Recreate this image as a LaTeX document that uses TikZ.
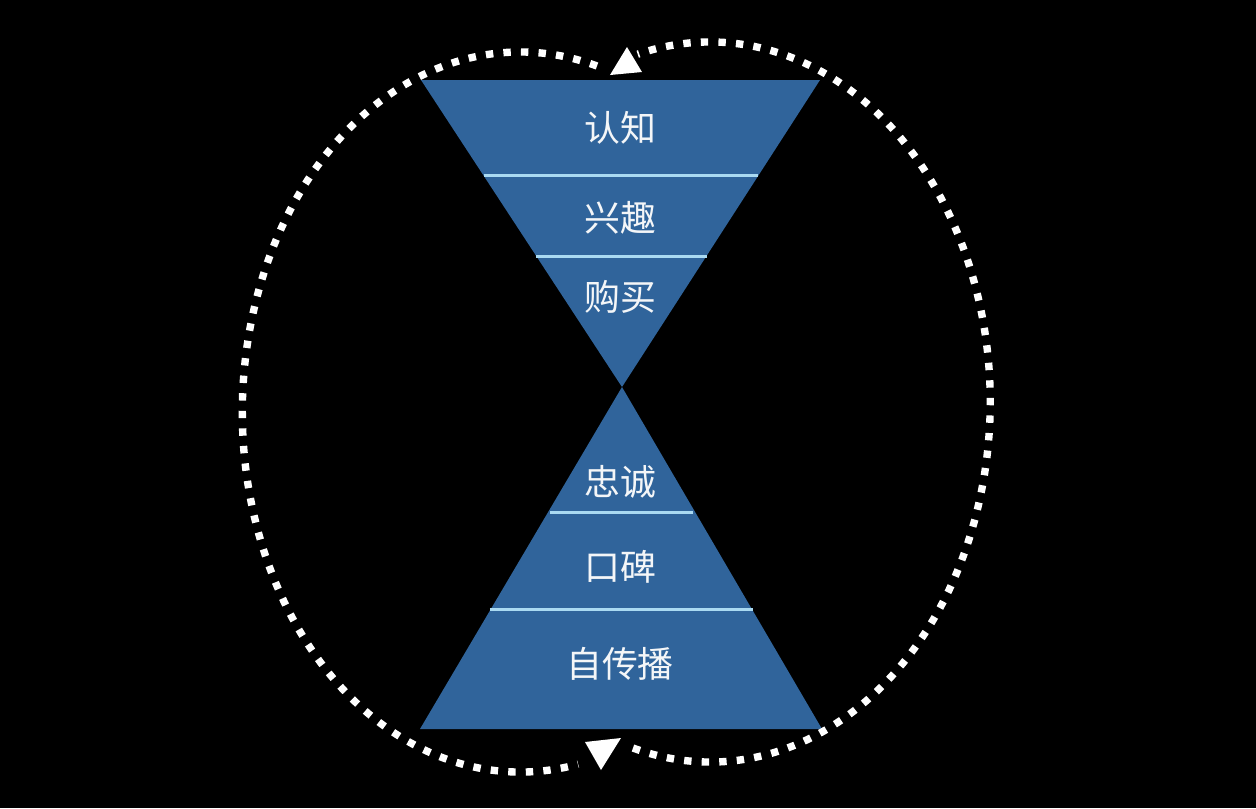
\documentclass[tikz,border=0pt]{standalone}
\usepackage{fontspec}
\newfontfamily\cjk{Noto Sans CJK SC}
\usetikzlibrary{positioning}
\definecolor{funnelblue}{RGB}{48,100,155}
\definecolor{linecyan}{RGB}{170,218,242}
\definecolor{labelwhite}{RGB}{244,246,248}

\begin{document}
\begin{tikzpicture}[x=0.01cm, y=-0.01cm,
    stage/.style={text=labelwhite, font=\cjk\fontsize{10.2}{12}\selectfont, inner sep=0pt},
    divider/.style={draw=linecyan, line width=0.85pt},
    loopline/.style={draw=white, line width=2.1pt, dash pattern=on 2.1pt off 2.9pt},
    loophead/.style={fill=white}]
    % Background
    \fill[black] (0,0) rectangle (1256,808);

    % Funnels
    \fill[funnelblue] (421,80) -- (820,80) -- (622,387) -- cycle;
    \fill[funnelblue] (622,387) -- (822,729) -- (420,729) -- cycle;

    % Dividers
    \draw[divider] (484,175) -- (758,175);
    \draw[divider] (536,256) -- (707,256);
    \draw[divider] (550,512) -- (693,512);
    \draw[divider] (490,609) -- (753,609);

    % Labels
    \node[stage] (renzhi) at (620,128) {认知};
    \node[stage] (xingqu) at (620,218) {兴趣};
    \node[stage] (goumai) at (620,297) {购买};
    \node[stage] (zhongcheng) at (620,482) {忠诚};
    \node[stage] (koubei) at (620,567) {口碑};
    \node[stage] (zichuanbo) at (620,664) {自传播};

    % Loop
    \draw[loopline] (597,66) arc[start angle=-74, end angle=-282, x radius=278, y radius=360];
    \draw[loopline] (633,748) arc[start angle=106, end angle=-105, x radius=280, y radius=360];

    % Arrow heads
    \fill[loophead] (610,75) -- (642,72) -- (627,47) -- cycle;
    \fill[loophead] (585,742) -- (621,738) -- (601,770) -- cycle;
\end{tikzpicture}
\end{document}
